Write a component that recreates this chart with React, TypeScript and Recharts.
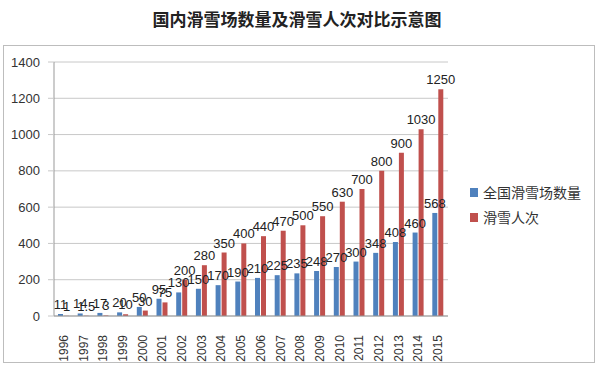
import React from 'react';
import { BarChart, Bar, XAxis, YAxis, CartesianGrid, Legend, LabelList } from 'recharts';

const years = ['1996', '1997', '1998', '1999', '2000', '2001', '2002', '2003', '2004', '2005', '2006', '2007', '2008', '2009', '2010', '2011', '2012', '2013', '2014', '2015'];
const resorts = [11, 14, 17, 20, 50, 95, 130, 150, 170, 190, 210, 225, 235, 248, 270, 300, 348, 408, 460, 568];
const skiers = [1, 1.5, 3, 10, 30, 75, 200, 280, 350, 400, 440, 470, 500, 550, 630, 700, 800, 900, 1030, 1250];
const yTicks = [0, 200, 400, 600, 800, 1000, 1200, 1400];

const BLUE = '#4F81BD';
const RED = '#C0504D';
const NUM_FONT = '"Liberation Sans", Arial, sans-serif';
const CJK_FONT = '"Noto Sans CJK SC", "Noto Sans", sans-serif';

const data = years.map((y, i) => ({ year: y, resorts: resorts[i], skiers: skiers[i] }));

// 竖排年份标签
const YearTick = (props: any) => {
    const { x, y, payload } = props;
    return (
        <text
            transform={`translate(${x + 4},${y + 11}) rotate(-90)`}
            textAnchor="end"
            fontSize={12}
            fontFamily={NUM_FONT}
            fill="#333"
        >
            {payload.value}
        </text>
    );
};

const LegendBox = () => (
    <div style={{ fontFamily: CJK_FONT, fontSize: 14, color: '#333', lineHeight: '25px' }}>
        {[
            { c: BLUE, t: '全国滑雪场数量' },
            { c: RED, t: '滑雪人次' },
        ].map((it) => (
            <div key={it.t} style={{ display: 'flex', alignItems: 'center', whiteSpace: 'nowrap' }}>
                <span style={{ width: 8, height: 9, background: it.c, display: 'inline-block', marginRight: 5 }} />
                {it.t}
            </div>
        ))}
    </div>
);

export default function App() {
    return (
        <div style={{ position: 'absolute', left: 0, top: 0, width: 600, height: 367, background: '#fff', overflow: 'hidden' }}>
            <div
                style={{
                    position: 'absolute',
                    left: 0,
                    width: 594,
                    top: 6,
                    textAlign: 'center',
                    fontFamily: CJK_FONT,
                    fontWeight: 'bold',
                    fontSize: 17,
                    color: '#222',
                }}
            >
                国内滑雪场数量及滑雪人次对比示意图
            </div>
            <div
                style={{
                    position: 'absolute',
                    left: 3,
                    top: 45,
                    width: 592,
                    height: 318,
                    border: '1px solid #bdbdbd',
                    boxSizing: 'border-box',
                }}
            />
            <div style={{ position: 'absolute', left: 0, top: 0 }}>
                <BarChart
                    width={600}
                    height={367}
                    data={data}
                    margin={{ top: 62, right: 152, left: 0, bottom: 0 }}
                    barSize={5}
                    barGap={1}
                >
                    <CartesianGrid vertical={false} stroke="#c8c8c8" />
                    <XAxis
                        dataKey="year"
                        height={51}
                        tick={<YearTick />}
                        tickLine={false}
                        axisLine={{ stroke: '#999' }}
                        interval={0}
                    />
                    <YAxis
                        width={54}
                        domain={[0, 1400]}
                        ticks={yTicks}
                        tickSize={6}
                        tickMargin={8}
                        tickLine={{ stroke: '#c8c8c8' }}
                        axisLine={{ stroke: '#999' }}
                        tick={{ fontSize: 13, fontFamily: NUM_FONT, fill: '#333' }}
                    />
                    <Legend
                        layout="horizontal"
                        verticalAlign="middle"
                        align="center"
                        wrapperStyle={{ position: 'absolute', left: 470, top: 180, width: 130 }}
                        content={() => <LegendBox />}
                    />
                    <Bar dataKey="resorts" name="全国滑雪场数量" fill={BLUE} isAnimationActive={false}>
                        <LabelList dataKey="resorts" position="top" offset={5} fontSize={13} fontFamily={NUM_FONT} fill="#222" />
                    </Bar>
                    <Bar dataKey="skiers" name="滑雪人次" fill={RED} isAnimationActive={false}>
                        <LabelList dataKey="skiers" position="top" offset={5} fontSize={13} fontFamily={NUM_FONT} fill="#222" />
                    </Bar>
                </BarChart>
            </div>
        </div>
    );
}
